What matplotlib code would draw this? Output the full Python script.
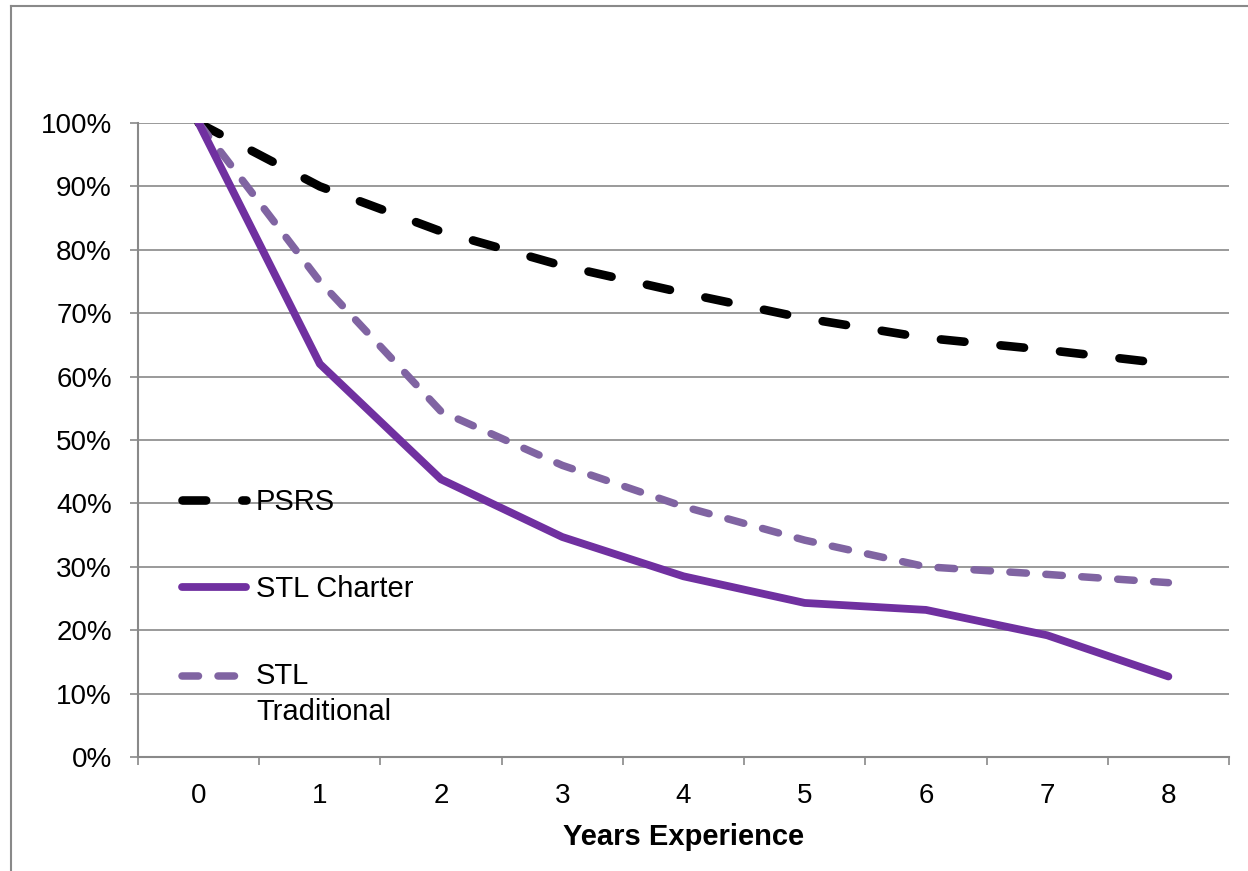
import numpy as np
import matplotlib
matplotlib.use("Agg")
import matplotlib.pyplot as plt
from matplotlib.lines import Line2D
from matplotlib.legend_handler import HandlerLine2D
from matplotlib.ticker import FixedLocator, PercentFormatter

# ---- data ----
years = [0, 1, 2, 3, 4, 5, 6, 7, 8]
year_labels = ["0", "1", "2", "3", "4", "5", "6", "7", "8"]
psrs = [100, 90.0, 82.9, 77.5, 73.2, 69.2, 66.1, 64.2, 62.0]
stl_charter = [100, 62.0, 43.8, 34.7, 28.5, 24.3, 23.2, 19.2, 12.7]
stl_traditional = [100, 75.0, 54.5, 46.0, 39.5, 34.2, 30.0, 28.8, 27.5]
series_names = ["PSRS", "STL Charter", "STL\nTraditional"]
y_ticks = [0, 10, 20, 30, 40, 50, 60, 70, 80, 90, 100]
x_label = "Years Experience"

plt.rcParams['font.family'] = ['Liberation Sans', 'DejaVu Sans']

W, H = 1248, 871
fig = plt.figure(figsize=(W / 100, H / 100), dpi=100)
fig.patch.set_facecolor("white")

grey = "#898989"

# outer chart frame
fig.add_artist(Line2D([11 / W, 11 / W], [0, 1 - 6 / H], transform=fig.transFigure,
                      color=grey, lw=1.5))
fig.add_artist(Line2D([11 / W, 1.0], [1 - 6 / H, 1 - 6 / H], transform=fig.transFigure,
                      color=grey, lw=1.5))

ax = fig.add_axes([138 / W, 1 - 757 / H, 1091 / W, 634 / H])

l1, = ax.plot(years, psrs, color="black", lw=6.2, dashes=(2.75, 4.2),
              dash_capstyle="round", solid_joinstyle="round", dash_joinstyle="round",
              label=series_names[0], zorder=3)
l2, = ax.plot(years, stl_charter, color="#7030A0", lw=5.6,
              solid_capstyle="round", solid_joinstyle="round",
              label=series_names[1], zorder=4)
l3, = ax.plot(years, stl_traditional, color="#8064A2", lw=5.4, dashes=(2.2, 2.6),
              dash_capstyle="round", dash_joinstyle="round",
              label=series_names[2], zorder=3)

ax.set_xlim(-0.5, len(years) - 0.5)
ax.set_ylim(0, 100)

# y axis
ax.yaxis.set_major_locator(FixedLocator(y_ticks))
ax.yaxis.set_major_formatter(PercentFormatter(decimals=0))
ax.grid(axis="y", color=grey, lw=1.2)
ax.set_axisbelow(True)
ax.tick_params(axis="y", which="major", length=5.8, width=1.2, color=grey,
               labelsize=20, pad=13, direction="out")

# x axis: category ticks between categories, labels centered
ax.set_xticks(np.arange(-0.5, len(years), 1.0))
ax.set_xticklabels([])
ax.set_xticks(years, minor=True)
ax.set_xticklabels(year_labels, minor=True)
ax.tick_params(axis="x", which="major", length=5.8, width=1.2, color=grey, direction="out")
ax.tick_params(axis="x", which="minor", length=0, labelsize=20, pad=19)

for s in ["top", "right"]:
    ax.spines[s].set_visible(False)
for s in ["left", "bottom"]:
    ax.spines[s].set_color(grey)
    ax.spines[s].set_linewidth(1.5)

ax.set_xlabel(x_label, fontsize=21, fontweight="bold", labelpad=9.5)


class ShiftedHandler(HandlerLine2D):
    def __init__(self, shift, **kw):
        super().__init__(**kw)
        self.shift = shift

    def create_artists(self, legend, orig_handle, xdescent, ydescent, width, height,
                       fontsize, trans):
        arts = super().create_artists(legend, orig_handle, xdescent, ydescent, width,
                                      height, fontsize, trans)
        for a in arts:
            if isinstance(a, Line2D):
                a.set_ydata(np.asarray(a.get_ydata(), dtype=float) + self.shift * fontsize)
        return arts


leg = ax.legend(handles=[l1, l2, l3], loc="upper left", bbox_to_anchor=(0.0403, 0.424),
                frameon=False, fontsize=21, handlelength=2.2, handletextpad=0.34,
                labelspacing=2.02, borderpad=0, borderaxespad=0,
                handler_map={l3: ShiftedHandler(0.64)})
leg.get_texts()[2].set_linespacing(1.36)

fig.savefig("out.png", dpi=100, facecolor="white")
